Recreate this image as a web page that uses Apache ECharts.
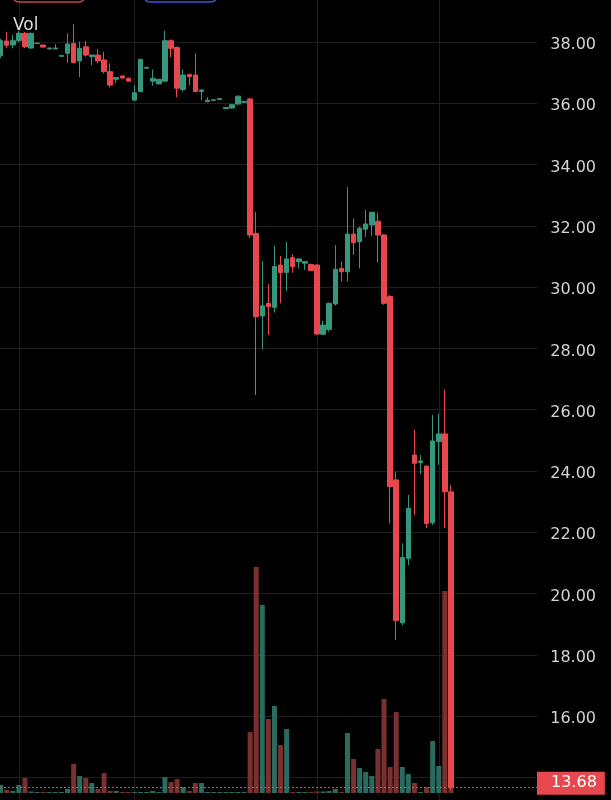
<!DOCTYPE html>
<html>
<head>
<meta charset="utf-8">
<script src="https://cdn.jsdelivr.net/npm/echarts@6/dist/echarts.min.js"></script>
<style>
html,body{margin:0;padding:0;background:#000;}
#chart{width:611px;height:800px;}
</style>
</head>
<body>
<div id="chart"></div>
<script>
// ---- data ----
const opens = [37.55,38.03,37.90,38.04,38.28,37.80,37.95,37.90,37.77,37.77,37.53,37.63,37.95,37.38,37.84,37.52,37.57,37.41,37.03,36.78,
36.89,36.81,36.10,36.38,37.14,36.72,36.63,36.72,38.04,37.82,36.45,36.94,36.92,36.38,36.05,36.09,36.12,35.82,35.84,35.97,
36.03,36.14,31.75,29.06,29.47,29.34,30.72,30.48,30.96,30.83,30.78,30.74,30.72,28.46,28.62,29.45,30.61,30.50,31.73,31.48,
31.89,32.03,32.15,31.70,29.69,23.71,19.05,21.15,24.52,24.27,24.16,22.31,24.96,25.21,23.32];
const closes = [38.04,37.89,38.04,38.28,37.84,38.28,37.96,37.83,37.80,37.80,37.56,37.93,37.32,37.79,37.57,37.57,37.38,37.03,36.59,36.84,
36.82,36.72,36.34,37.43,37.17,36.81,36.78,38.04,37.79,36.49,36.92,36.87,36.38,36.43,36.10,36.11,36.15,35.86,35.95,36.23,
36.06,31.70,29.03,29.39,29.36,30.67,30.47,30.92,30.67,30.92,30.83,30.54,28.47,28.76,29.47,30.58,30.50,31.73,31.45,31.92,
32.06,32.44,31.70,29.47,23.49,19.12,21.18,22.78,24.25,24.33,22.29,24.98,25.21,23.32,13.68];
const lows = [37.47,37.79,37.79,38.00,37.80,37.78,37.93,37.82,37.76,37.76,37.52,37.32,37.30,36.86,37.52,37.24,37.30,36.97,36.51,36.65,
36.81,36.70,36.08,36.35,37.13,36.57,36.62,36.70,37.50,36.19,36.38,36.59,36.36,36.10,36.03,36.08,36.11,35.81,35.83,35.96,
36.02,31.60,26.48,27.98,28.44,29.17,29.47,29.87,30.47,30.61,30.56,30.52,28.44,28.44,28.55,29.40,30.18,30.18,31.05,30.61,
31.64,31.67,30.80,29.42,22.29,18.49,18.97,20.93,22.56,23.90,22.13,22.24,24.20,22.14,13.60];
const highs = [38.10,38.33,38.23,38.35,38.32,38.30,37.98,37.91,37.81,37.93,37.57,38.28,38.58,38.01,38.04,37.58,37.77,37.68,37.30,36.85,
36.90,36.84,36.59,37.45,37.18,37.10,36.79,38.37,38.08,37.85,37.10,36.96,37.63,36.45,36.20,36.12,36.16,35.87,35.96,36.24,
36.07,36.17,32.46,30.85,30.10,31.35,31.02,31.48,31.07,30.93,30.84,30.76,30.74,28.90,29.50,31.37,30.83,33.26,32.24,31.97,
32.52,32.46,32.43,31.72,29.74,23.98,21.64,23.22,25.34,24.52,24.17,25.83,25.86,26.66,23.54];
const volumes = [0.8,0.3,0.2,0.8,1.5,0.15,0.1,0.1,0.1,0.1,0.1,0.4,2.9,1.7,1.5,1.0,0.4,2.0,0.2,0.2,
0.1,0.1,0.1,0.1,0.1,0.2,0.1,1.6,1.1,1.4,0.6,0.2,1.0,1.0,0.1,0.1,0.1,0.1,0.1,0.1,
0.1,6.1,22.6,18.8,7.4,8.7,4.8,6.4,0.1,0.1,0.1,0.1,0.15,0.15,0.2,0.4,0.1,6.0,3.4,2.5,
2.1,1.7,4.4,9.4,2.6,8.1,2.6,1.9,1.0,0.1,0.6,5.2,2.7,20.2,0.6];
const gridMarks = [3, 22, 52, 72];
const priceTicks = [12,14,16,18,20,22,24,26,28,30,32,34,36,38,40];
const lastPrice = closes[closes.length - 1];

// ---- styles ----
const UP = '#36977f', DOWN = '#e6484e';
const VOL_UP = '#2b6a5e', VOL_DOWN = '#7a302f';
const GRID = '#1f1f1f';
const FONT = 'DejaVu Sans';

const candleData = opens.map((o, i) => [i, o, closes[i], lows[i], highs[i]]);
const volData = volumes.map((v, i) => [i, v]);

const chart = echarts.init(document.getElementById('chart'), null, {renderer: 'canvas'});
chart.setOption({
  backgroundColor: '#000000',
  animation: false,
  grid: [
    {left: 0, right: 74, top: -19.4, bottom: -38.8, containLabel: false, outerBoundsMode: 'none'},
    {left: 0, right: 74, bottom: 7, height: 300, containLabel: false, outerBoundsMode: 'none'}
  ],
  xAxis: [
    {type: 'value', gridIndex: 0, min: -0.1, max: 88.14, show: false},
    {type: 'value', gridIndex: 1, min: -0.1, max: 88.14, show: false}
  ],
  yAxis: [
    {
      type: 'value', gridIndex: 0, position: 'right',
      min: priceTicks[0], max: priceTicks[priceTicks.length - 1], interval: 2,
      axisLine: {show: false}, axisTick: {show: false},
      splitLine: {show: true, lineStyle: {color: GRID, width: 1}},
      axisLabel: {
        formatter: v => '{a|' + v.toFixed(2) + '}', align: 'right', margin: 59,
        rich: {a: {color: '#d4d4d4', fontSize: 16, fontFamily: FONT, padding: [6, 0, 0, 0]}}
      }
    },
    {type: 'value', gridIndex: 1, min: 0, max: 30, show: false}
  ],
  graphic: [
    {type: 'rect', shape: {x: 13, y: -20, width: 72, height: 22, r: 6},
     style: {fill: 'none', stroke: '#c9434b', lineWidth: 1.5}, z: 100},
    {type: 'rect', shape: {x: 144, y: -20, width: 73, height: 22, r: 6},
     style: {fill: 'none', stroke: '#4053d6', lineWidth: 1.5}, z: 100},
    {type: 'text', left: 13, top: 17,
     style: {text: 'Vol', fill: '#dcdcdc', fontSize: 17, fontFamily: FONT}, z: 100}
  ],
  series: [
    {
      type: 'line', xAxisIndex: 0, yAxisIndex: 0, data: [], silent: true,
      markLine: {
        z: 0, silent: true, symbol: ['none', 'none'], label: {show: false},
        lineStyle: {color: GRID, type: 'solid', width: 1},
        data: gridMarks.map(v => ({xAxis: v}))
      }
    },
    {
      type: 'bar', xAxisIndex: 1, yAxisIndex: 1, data: volData, barWidth: 5,
      itemStyle: {color: p => closes[p.dataIndex] >= opens[p.dataIndex] ? VOL_UP : VOL_DOWN}
    },
    {
      type: 'candlestick', xAxisIndex: 0, yAxisIndex: 0, data: candleData,
      encode: {x: 0, y: [1, 2, 3, 4]}, barWidth: 5, z: 3,
      itemStyle: {color: UP, color0: DOWN, borderColor: UP, borderColor0: DOWN, borderWidth: 1},
      markLine: {
        silent: true, symbol: ['none', 'none'], z: 10,
        lineStyle: {color: DOWN, type: [2, 2], width: 1},
        label: {
          show: true, position: 'end', distance: 0, offset: [0, -4],
          formatter: () => lastPrice.toFixed(2),
          color: '#ffffff', backgroundColor: DOWN, fontSize: 16, fontFamily: FONT,
          padding: [4, 8, 3, 14]
        },
        data: [{yAxis: lastPrice}]
      }
    }
  ]
});
</script>
</body>
</html>
